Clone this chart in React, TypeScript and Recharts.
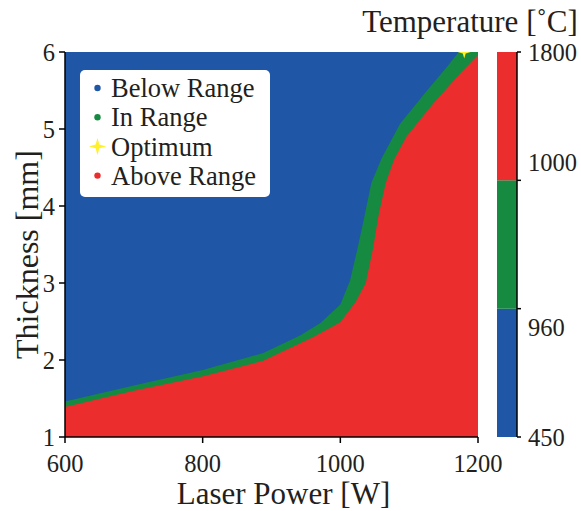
import React from 'react';
import {
  ComposedChart,
  Area,
  Scatter,
  XAxis,
  YAxis,
  Legend,
  Label,
  BarChart,
  Bar,
} from 'recharts';

const FONT = '"Liberation Serif", "Times New Roman", Times, serif';
const INK = '#231f20';
const BLUE = '#1f56a6';
const GREEN = '#168a41';
const RED = '#ec2d2e';
const YELLOW = '#fff02a';

// axis ticks
const powerTicks = [600, 800, 1000, 1200];
const thicknessTicks = [1, 2, 3, 4, 5, 6];

// whole process window (below-range region sits underneath the other bands)
const belowRangeEdge = [
  { power: 600, thickness: 6 },
  { power: 1200, thickness: 6 },
];

// upper edge of the in-range band (boundary to below range)
const inRangeEdge = [
  { power: 600, thickness: 1.46 },
  { power: 700, thickness: 1.67 },
  { power: 800, thickness: 1.87 },
  { power: 888, thickness: 2.09 },
  { power: 942, thickness: 2.32 },
  { power: 971, thickness: 2.48 },
  { power: 1000, thickness: 2.72 },
  { power: 1014, thickness: 3.03 },
  { power: 1025, thickness: 3.45 },
  { power: 1033, thickness: 3.78 },
  { power: 1045, thickness: 4.3 },
  { power: 1060, thickness: 4.62 },
  { power: 1087, thickness: 5.07 },
  { power: 1126, thickness: 5.5 },
  { power: 1155, thickness: 5.81 },
  { power: 1172, thickness: 6 },
  { power: 1200, thickness: 6 },
];

// upper edge of the above-range band (boundary to in range)
const aboveRangeEdge = [
  { power: 600, thickness: 1.39 },
  { power: 700, thickness: 1.6 },
  { power: 801, thickness: 1.79 },
  { power: 888, thickness: 1.99 },
  { power: 961, thickness: 2.3 },
  { power: 1000, thickness: 2.49 },
  { power: 1022, thickness: 2.75 },
  { power: 1037, thickness: 3.0 },
  { power: 1048, thickness: 3.47 },
  { power: 1052, thickness: 3.69 },
  { power: 1056, thickness: 3.9 },
  { power: 1066, thickness: 4.3 },
  { power: 1078, thickness: 4.6 },
  { power: 1096, thickness: 4.9 },
  { power: 1135, thickness: 5.33 },
  { power: 1174, thickness: 5.72 },
  { power: 1200, thickness: 5.96 },
];

// optimum operating point
const optimum = [{ power: 1180, thickness: 6 }];

const legendItems = [
  { label: 'Below Range', color: BLUE, marker: 'dot' },
  { label: 'In Range', color: GREEN, marker: 'dot' },
  { label: 'Optimum', color: YELLOW, marker: 'star' },
  { label: 'Above Range', color: RED, marker: 'dot' },
];

// colour bar: three temperature bins, bottom to top
const colorbarLevels = ['450', '960', '1000', '1800'];
const colorbarRow = [{ band: 'temperature', below: 1, inRange: 1, above: 1 }];
// vertical nudge for each colour bar label
const colorbarLabelNudge = [0, 19, -18, 0];

const tickStyle = { fontSize: 24.5, fill: INK, fontFamily: FONT };

function starPath(cx: number, cy: number, r: number) {
  const w = r * 0.22;
  return [
    `M${cx},${cy - r}`,
    `L${cx + w},${cy - w}`,
    `L${cx + r},${cy}`,
    `L${cx + w},${cy + w}`,
    `L${cx},${cy + r}`,
    `L${cx - w},${cy + w}`,
    `L${cx - r},${cy}`,
    `L${cx - w},${cy - w}`,
    'Z',
  ].join(' ');
}

const Sparkle = (props: any) => {
  const { cx, cy } = props;
  if (cx == null || cy == null) return null;
  return <path d={starPath(cx, cy, 6.5)} fill={YELLOW} stroke="none" />;
};

const LegendBox = () => (
  <svg width={192} height={129} style={{ display: 'block', overflow: 'visible' }}>
    <rect x={1} y={1} width={190} height={127} rx={5} ry={5} fill="#ffffff" />
    {legendItems.map((item, i) => {
      const cy = 19 + i * 29.2;
      return (
        <g key={item.label}>
          {item.marker === 'star' ? (
            <path d={starPath(18.5, cy, 8.5)} fill={item.color} />
          ) : (
            <circle cx={18.5} cy={cy} r={3.2} fill={item.color} />
          )}
          <text
            x={32}
            y={cy}
            dy="0.35em"
            fontSize={26.5}
            fontFamily={FONT}
            fill={INK}
          >
            {item.label}
          </text>
        </g>
      );
    })}
  </svg>
);

const ColorbarTick = (props: any) => {
  const { x, y, payload, index } = props;
  const i = typeof index === 'number' ? index : Number(payload.value);
  return (
    <text
      x={x}
      y={y + (colorbarLabelNudge[i] || 0)}
      dy="0.35em"
      textAnchor="start"
      fontSize={24.5}
      fontFamily={FONT}
      fill={INK}
    >
      {colorbarLevels[payload.value]}
    </text>
  );
};

export default function App() {
  return (
    <div
      style={{
        position: 'absolute',
        left: 0,
        top: 0,
        width: 581,
        height: 511,
        background: '#ffffff',
      }}
    >
      <div style={{ position: 'absolute', left: 0, top: 0 }}>
        <ComposedChart
          width={581}
          height={511}
          margin={{ top: 52, right: 103, bottom: 0, left: 0 }}
        >
          <XAxis
            dataKey="power"
            type="number"
            domain={[600, 1200]}
            ticks={powerTicks}
            allowDataOverflow
            height={74}
            tickSize={6}
            tickMargin={12}
            tick={tickStyle}
            stroke="#000"
            strokeWidth={1.5}
          >
            <Label
              content={(p: any) => {
                const vb = p.viewBox || { x: 65, y: 437, width: 413 };
                return (
                  <text
                    x={vb.x + vb.width / 2 + 12}
                    y={vb.y + 67}
                    textAnchor="middle"
                    fontSize={31}
                    fontFamily={FONT}
                    fill={INK}
                  >
                    Laser Power [W]
                  </text>
                );
              }}
            />
          </XAxis>
          <XAxis
            xAxisId="top"
            orientation="top"
            dataKey="power"
            type="number"
            domain={[600, 1200]}
            height={0}
            tick={false}
            tickLine={false}
            stroke="#000"
            strokeWidth={1.5}
          />
          <YAxis
            type="number"
            domain={[1, 6]}
            ticks={thicknessTicks}
            allowDataOverflow
            width={65}
            tickSize={6}
            tickMargin={4}
            tick={tickStyle}
            stroke="#000"
            strokeWidth={1.5}
          >
            <Label
              content={(p: any) => {
                const vb = p.viewBox || { x: 0, y: 52, height: 385 };
                const cx = vb.x + 38;
                const cy = vb.y + vb.height / 2 + 10;
                return (
                  <text
                    x={cx}
                    y={cy}
                    transform={`rotate(-90 ${cx} ${cy})`}
                    textAnchor="middle"
                    fontSize={32}
                    fontFamily={FONT}
                    fill={INK}
                  >
                    Thickness [mm]
                  </text>
                );
              }}
            />
          </YAxis>
          <YAxis
            yAxisId="right"
            orientation="right"
            type="number"
            domain={[1, 6]}
            width={0}
            tick={false}
            tickLine={false}
            stroke="#000"
            strokeWidth={1.5}
          />
          <Area
            data={belowRangeEdge}
            dataKey="thickness"
            type="linear"
            fill={BLUE}
            fillOpacity={1}
            stroke="none"
            isAnimationActive={false}
            legendType="none"
          />
          <Area
            data={inRangeEdge}
            dataKey="thickness"
            type="linear"
            fill={GREEN}
            fillOpacity={1}
            stroke="none"
            isAnimationActive={false}
            legendType="none"
          />
          <Area
            data={aboveRangeEdge}
            dataKey="thickness"
            type="linear"
            fill={RED}
            fillOpacity={1}
            stroke="none"
            isAnimationActive={false}
            legendType="none"
          />
          <Scatter
            data={optimum}
            dataKey="thickness"
            shape={<Sparkle />}
            isAnimationActive={false}
            legendType="none"
          />
          <Legend
            layout="vertical"
            align="center"
            verticalAlign="middle"
            content={() => <LegendBox />}
            wrapperStyle={{ left: 79, top: 69, width: 192, height: 129 }}
          />
        </ComposedChart>
      </div>

      <div style={{ position: 'absolute', left: 340, top: 0 }}>
        <BarChart
          width={241}
          height={511}
          data={colorbarRow}
          margin={{ top: 52, right: 0, bottom: 74, left: 157 }}
          barCategoryGap={0}
          style={{ overflow: 'visible' }}
        >
          <XAxis dataKey="band" height={0} tick={false} tickLine={false} stroke="#000" strokeWidth={1.5} />
          <XAxis
            xAxisId="top"
            orientation="top"
            dataKey="band"
            height={0}
            tick={false}
            tickLine={false}
            stroke="#000"
            strokeWidth={1.5}
          />
          <YAxis
            yAxisId="frame"
            type="number"
            domain={[0, 3]}
            width={0}
            tick={false}
            tickLine={false}
            stroke="#000"
            strokeWidth={1.5}
          />
          <YAxis
            yAxisId="temp"
            orientation="right"
            type="number"
            domain={[0, 3]}
            ticks={[0, 1, 2, 3]}
            width={64}
            tickSize={4}
            tickMargin={7}
            tick={<ColorbarTick />}
            stroke="#000"
            strokeWidth={1.5}
          >
            <Label
              content={(p: any) => {
                const vb = p.viewBox || { x: 177, y: 52 };
                return (
                  <text
                    x={vb.x - 47}
                    y={vb.y - 20}
                    textAnchor="middle"
                    fontSize={31}
                    fontFamily={FONT}
                    fill={INK}
                  >
                    Temperature [˚C]
                  </text>
                );
              }}
            />
          </YAxis>
          <Bar dataKey="below" stackId="t" yAxisId="temp" fill={BLUE} isAnimationActive={false} />
          <Bar dataKey="inRange" stackId="t" yAxisId="temp" fill={GREEN} isAnimationActive={false} />
          <Bar dataKey="above" stackId="t" yAxisId="temp" fill={RED} isAnimationActive={false} />
        </BarChart>
      </div>
    </div>
  );
}
